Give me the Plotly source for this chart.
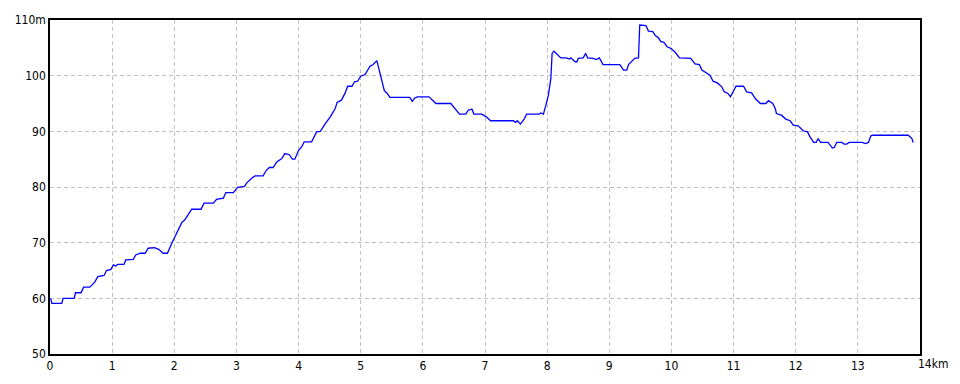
import plotly.graph_objects as go

dist_km = [0.01, 0.03, 0.19, 0.21, 0.39, 0.41, 0.50, 0.54, 0.64, 0.72, 0.77, 0.87, 0.91, 0.98,
           1.02, 1.06, 1.09, 1.19, 1.22, 1.34, 1.38, 1.45, 1.53, 1.58, 1.68, 1.75, 1.82, 1.89, 1.96,
           2.01, 2.12, 2.17, 2.23, 2.28, 2.43, 2.48, 2.63, 2.68, 2.79, 2.83, 2.95,
           3.02, 3.13, 3.17, 3.25, 3.30, 3.43, 3.48, 3.53, 3.59, 3.65, 3.73, 3.78, 3.85, 3.90, 3.94,
           4.00, 4.05, 4.09, 4.21, 4.29, 4.35, 4.43, 4.51, 4.59, 4.62, 4.69, 4.75, 4.79, 4.86, 4.90, 4.95,
           5.00, 5.07, 5.15, 5.20, 5.26, 5.28, 5.34, 5.38, 5.42, 5.47, 5.79, 5.83, 5.87, 5.91,
           6.10, 6.21, 6.45, 6.52, 6.59, 6.69, 6.73, 6.79, 6.82, 6.95,
           7.02, 7.09, 7.46, 7.49, 7.52, 7.57, 7.63, 7.67, 7.87, 7.90, 7.94, 7.98,
           8.02, 8.06, 8.08, 8.11, 8.22, 8.30, 8.36, 8.38, 8.45, 8.48, 8.50, 8.58, 8.62, 8.65, 8.74,
           8.79, 8.84, 8.90, 9.17, 9.23, 9.28, 9.31, 9.36, 9.41, 9.47, 9.49, 9.59, 9.63, 9.70, 9.74,
           9.79, 9.83, 9.88, 9.93, 9.99, 10.06, 10.13, 10.31, 10.38, 10.45, 10.49, 10.57, 10.62,
           10.67, 10.74, 10.81, 10.85, 10.91, 10.95, 11.00, 11.04, 11.16, 11.21, 11.29, 11.35, 11.43,
           11.52, 11.56, 11.63, 11.67, 11.69, 11.77, 11.84, 11.91, 11.96, 12.04, 12.10, 12.12, 12.19,
           12.23, 12.29, 12.33, 12.36, 12.40, 12.52, 12.56, 12.59, 12.62, 12.66, 12.74, 12.78, 12.82,
           12.86, 13.07, 13.12, 13.17, 13.21, 13.24, 13.81, 13.87, 13.89]

elev_m = [60.0, 59.1, 59.1, 60.0, 60.0, 61.0, 61.0, 62.0, 62.0, 62.9, 63.9, 64.1, 65.0, 65.2,
          66.0, 65.8, 66.1, 66.1, 66.9, 67.0, 67.8, 68.1, 68.1, 69.0, 69.1, 68.8, 68.1, 68.1, 69.9,
          71.1, 73.6, 74.1, 75.1, 76.0, 76.0, 77.1, 77.1, 77.8, 78.0, 79.0, 79.0,
          79.95, 80.1, 80.8, 81.6, 82.0, 82.0, 83.0, 83.5, 83.5, 84.5, 85.1, 86.0, 85.8, 85.0, 85.0,
          86.6, 87.2, 88.1, 88.1, 89.9, 90.0, 91.4, 92.6, 94.1, 95.2, 95.6, 96.9, 98.1, 98.1, 98.9, 99.0,
          99.9, 100.2, 101.7, 102.0, 102.7, 101.7, 99.2, 97.3, 96.9, 96.1, 96.1, 95.4, 96.0, 96.2,
          96.2, 95.0, 95.0, 94.0, 93.1, 93.1, 93.8, 94.0, 93.1, 93.1,
          92.6, 91.9, 91.9, 91.6, 91.9, 91.3, 92.2, 93.1, 93.1, 93.3, 93.1, 94.7,
          96.5, 99.5, 104.0, 104.4, 103.2, 103.2, 103.0, 103.2, 102.5, 102.5, 103.1, 103.2, 104.0, 103.2, 103.1,
          102.9, 103.2, 102.0, 102.0, 101.0, 101.0, 102.0, 102.5, 103.1, 103.2, 109.1, 109.0, 108.0, 107.9, 107.2,
          106.8, 106.1, 106.0, 105.2, 104.9, 104.2, 103.2, 103.1, 102.1, 102.0, 101.0, 100.5, 100.1,
          99.0, 98.7, 98.0, 97.1, 96.8, 96.2, 97.3, 98.1, 98.1, 97.1, 96.9, 95.9, 95.0,
          95.0, 95.5, 95.0, 94.1, 93.2, 92.9, 92.2, 91.9, 91.1, 91.0, 90.4, 90.1, 89.9,
          89.0, 88.0, 88.0, 88.7, 88.0, 88.0, 87.4, 87.0, 87.1, 88.0, 88.0, 87.7, 87.7,
          88.0, 88.0, 87.8, 88.0, 89.2, 89.3, 89.3, 88.7, 88.0]

x_ticks = list(range(0, 15))
x_labels = [str(v) for v in range(0, 14)] + [""]
y_ticks = [50, 60, 70, 80, 90, 100, 110]
y_labels = ["50", "60", "70", "80", "90", "100", "110m"]

FONT = "Liberation Sans Narrow, DejaVu Sans Condensed, Liberation Sans, sans-serif"

fig = go.Figure()
fig.add_trace(go.Scatter(x=dist_km, y=elev_m, mode="lines",
                         line=dict(color="#0000FF", width=1.3), hoverinfo="skip"))

fig.update_layout(
    width=960, height=384,
    margin=dict(l=50, r=40, t=20, b=30),
    paper_bgcolor="white", plot_bgcolor="white",
    showlegend=False,
    font=dict(family=FONT, size=12, color="black"),
    xaxis=dict(range=[0, 14], tickmode="array", tickvals=x_ticks, ticktext=x_labels,
               showgrid=True, gridcolor="#C0C0C0", griddash="4px,3px", gridwidth=1,
               showline=True, linecolor="black", linewidth=1.5, mirror=True,
               ticks="", zeroline=False, fixedrange=True),
    yaxis=dict(range=[50, 110], tickmode="array", tickvals=y_ticks, ticktext=y_labels,
               showgrid=True, gridcolor="#C0C0C0", griddash="4px,3px", gridwidth=1,
               showline=True, linecolor="black", linewidth=1.5, mirror=True,
               ticks="", zeroline=False, fixedrange=True),
)
fig.add_annotation(x=14, xref="x", y=0, yref="paper", yanchor="top", xanchor="left",
                   xshift=-4, yshift=-1, text="14km", showarrow=False,
                   font=dict(family=FONT, size=12, color="black"))

fig.write_html("out.html")
